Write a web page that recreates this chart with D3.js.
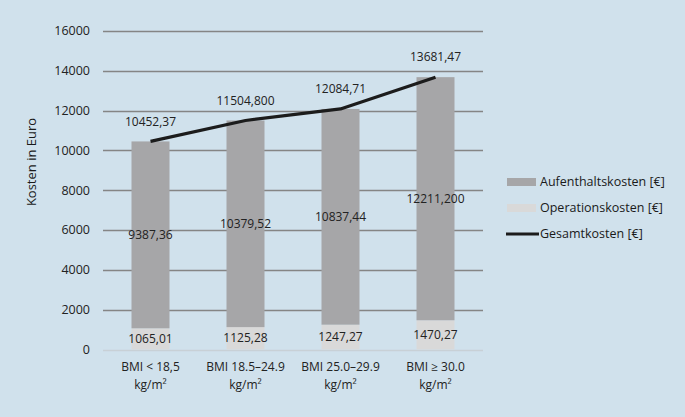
<!DOCTYPE html>
<html>
<head>
<meta charset="utf-8">
<script src="https://cdn.jsdelivr.net/npm/d3@7"></script>
<style>
  body { margin: 0; background: #d0e1ec; }
  svg { display: block; font-family: "Open Sans", sans-serif; }
</style>
</head>
<body>
<div id="chart"></div>
<script>
var width = 685, height = 417;

// data
var categories = ["BMI < 18,5|kg/m²", "BMI 18.5–24.9|kg/m²", "BMI 25.0–29.9|kg/m²", "BMI ≥ 30.0|kg/m²"];
var operationskosten = [1065.01, 1125.28, 1247.27, 1470.27];
var aufenthaltskosten = [9387.36, 10379.52, 10837.44, 12211.2];
var gesamtkosten = [10452.37, 11504.8, 12084.71, 13681.47];
var opLabels = ["1065,01", "1125,28", "1247,27", "1470,27"];
var aufLabels = ["9387,36", "10379,52", "10837,44", "12211,200"];
var gesLabels = ["10452,37", "11504,800", "12084,71", "13681,47"];
var yTicks = [0, 2000, 4000, 6000, 8000, 10000, 12000, 14000, 16000];

var plot = { left: 103, right: 483, top: 31, bottom: 349.5 };

var svg = d3.select("#chart")
  .append("svg")
  .attr("width", width)
  .attr("height", height);

svg.append("rect").attr("width", width).attr("height", height).attr("fill", "#d0e1ec");

var x = d3.scaleBand()
  .domain(d3.range(categories.length))
  .range([plot.left, plot.right])
  .paddingInner(0.6)
  .paddingOuter(0.3);

var y = d3.scaleLinear()
  .domain([0, 16000])
  .range([plot.bottom, plot.top]);

// gridlines
svg.append("g")
  .selectAll("line")
  .data(yTicks)
  .enter().append("line")
  .attr("x1", plot.left)
  .attr("x2", plot.right)
  .attr("y1", function(d) { return Math.round(y(d)) + 0.5; })
  .attr("y2", function(d) { return Math.round(y(d)) + 0.5; })
  .attr("stroke", function(d) { return d === 0 ? "#c8d0d6" : "#858585"; })
  .attr("stroke-width", 1.3);

// y tick labels
svg.append("g")
  .selectAll("text")
  .data(yTicks)
  .enter().append("text")
  .attr("x", 90)
  .attr("y", function(d) { return y(d); })
  .attr("dy", "0.35em")
  .attr("text-anchor", "end")
  .attr("font-size", 12.5)
  .attr("fill", "#222")
  .text(function(d) { return d; });

// y axis title
svg.append("text")
  .attr("transform", "translate(36,162) rotate(-90)")
  .attr("text-anchor", "middle")
  .attr("font-size", 13)
  .attr("fill", "#1a1a1a")
  .text("Kosten in Euro");

// stacked bars
var bars = svg.append("g");
bars.selectAll("rect.op")
  .data(operationskosten)
  .enter().append("rect")
  .attr("class", "op")
  .attr("x", function(d, i) { return x(i); })
  .attr("width", x.bandwidth())
  .attr("y", function(d) { return y(d); })
  .attr("height", function(d) { return y(0) - y(d); })
  .attr("fill", "#d9d9d9");

bars.selectAll("rect.auf")
  .data(aufenthaltskosten)
  .enter().append("rect")
  .attr("class", "auf")
  .attr("x", function(d, i) { return x(i); })
  .attr("width", x.bandwidth())
  .attr("y", function(d, i) { return y(d + operationskosten[i]); })
  .attr("height", function(d) { return y(0) - y(d); })
  .attr("fill", "#a6a6a8");

// total line
var line = d3.line()
  .x(function(d, i) { return x(i) + x.bandwidth() / 2; })
  .y(function(d) { return y(d); });

svg.append("path")
  .datum(gesamtkosten)
  .attr("d", line)
  .attr("fill", "none")
  .attr("stroke", "#1c1c1c")
  .attr("stroke-width", 3.2)
  .attr("stroke-linejoin", "round");

var labels = svg.append("g")
  .attr("font-size", 12)
  .attr("fill", "#222")
  .attr("text-anchor", "middle");

labels.selectAll("text.op")
  .data(operationskosten)
  .enter().append("text")
  .attr("x", function(d, i) { return x(i) + x.bandwidth() / 2; })
  .attr("y", function(d) { return y(d / 2); })
  .attr("dy", "0.35em")
  .text(function(d, i) { return opLabels[i]; });

labels.selectAll("text.auf")
  .data(aufenthaltskosten)
  .enter().append("text")
  .attr("x", function(d, i) { return x(i) + x.bandwidth() / 2; })
  .attr("y", function(d, i) { return y(operationskosten[i] + d / 2); })
  .attr("dy", "0.35em")
  .text(function(d, i) { return aufLabels[i]; });

labels.selectAll("text.ges")
  .data(gesamtkosten)
  .enter().append("text")
  .attr("x", function(d, i) { return x(i) + x.bandwidth() / 2; })
  .attr("y", function(d) { return y(d) - 20; })
  .attr("dy", "0.35em")
  .text(function(d, i) { return gesLabels[i]; });

// x labels (two lines)
var xl = svg.append("g")
  .attr("font-size", 12)
  .attr("fill", "#222")
  .attr("text-anchor", "middle");

xl.selectAll("text")
  .data(categories)
  .enter().append("text")
  .attr("x", function(d, i) { return x(i) + x.bandwidth() / 2; })
  .attr("y", 367)
  .each(function(d) {
    var parts = d.split("|");
    var t = d3.select(this);
    t.append("tspan").attr("x", t.attr("x")).attr("dy", "0.35em").text(parts[0]);
    t.append("tspan").attr("x", t.attr("x")).attr("dy", 17.5).text(parts[1]);
  });

// legend
var legendItems = [
  { name: "Aufenthaltskosten [€]", type: "rect", color: "#a6a6a8" },
  { name: "Operationskosten [€]", type: "rect", color: "#d9d9d9" },
  { name: "Gesamtkosten [€]", type: "line", color: "#1c1c1c" }
];

var legend = svg.append("g").attr("transform", "translate(507,182)");
var item = legend.selectAll("g")
  .data(legendItems)
  .enter().append("g")
  .attr("transform", function(d, i) { return "translate(0," + (i * 26) + ")"; });

item.filter(function(d) { return d.type === "rect"; })
  .append("rect")
  .attr("x", 0).attr("y", -4)
  .attr("width", 29).attr("height", 8)
  .attr("fill", function(d) { return d.color; });

item.filter(function(d) { return d.type === "line"; })
  .append("line")
  .attr("x1", -1).attr("x2", 32)
  .attr("stroke", function(d) { return d.color; })
  .attr("stroke-width", 3);

item.append("text")
  .attr("x", 33)
  .attr("dy", "0.35em")
  .attr("font-size", 12.5)
  .attr("fill", "#1a1a1a")
  .text(function(d) { return d.name; });
</script>
</body>
</html>
